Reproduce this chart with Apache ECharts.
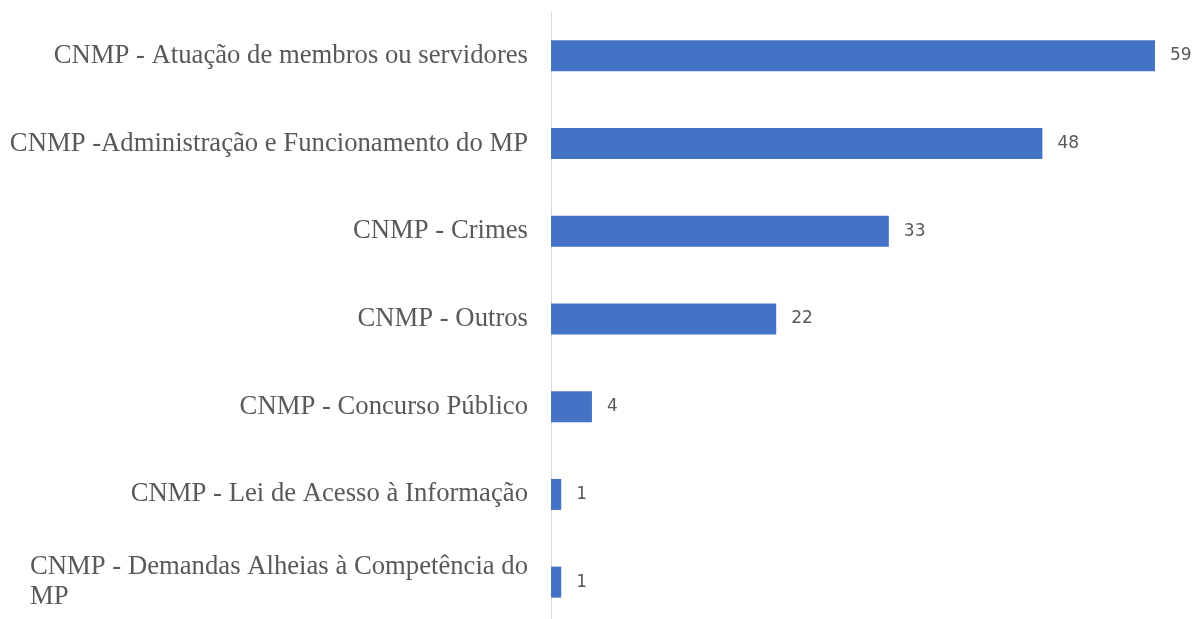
<!DOCTYPE html>
<html>
<head>
<meta charset="utf-8">
<script src="https://cdn.jsdelivr.net/npm/echarts@6/dist/echarts.min.js"></script>
<style>
  html, body { margin: 0; padding: 0; background: #fff; overflow: hidden; }
  #chart { width: 1195px; height: 630px; }
</style>
</head>
<body>
<div id="chart"></div>
<script>
// categories, top to bottom as drawn
var categories = [
  'CNMP - Atuação de membros ou servidores',
  'CNMP -Administração e Funcionamento do MP',
  'CNMP - Crimes',
  'CNMP - Outros',
  'CNMP - Concurso Público',
  'CNMP - Lei de Acesso à Informação',
  'CNMP - Demandas Alheias à Competência do MP'
]
var values = [59, 48, 33, 22, 4, 1, 1]

var chart = echarts.init(document.getElementById('chart'), null, { renderer: 'canvas' })

chart.setOption({
  animation: false,
  grid: {
    left: 551,
    right: 40,
    top: 12,
    bottom: 4,
    containLabel: false
  },
  xAxis: {
    type: 'value',
    min: 0,
    max: 59,
    show: false
  },
  yAxis: {
    type: 'category',
    inverse: true,
    data: categories,
    axisLine: { show: true, lineStyle: { color: '#d9d9d9', width: 1 } },
    axisTick: { show: false },
    axisLabel: {
      margin: 23,
      color: '#595959',
      fontFamily: '"Liberation Serif", serif',
      fontSize: 26.7,
      formatter: function(val) {
        // last label wraps, left aligned like the original
        if (val.indexOf('Demandas') >= 0) {
          return '{l|CNMP - Demandas Alheias à Competência do}\n{l|MP}'
        }
        return val
      },
      rich: {
        l: {
          width: 498,
          align: 'left',
          lineHeight: 30,
          fontSize: 26.7,
          color: '#595959',
          fontFamily: '"Liberation Serif", serif'
        }
      }
    }
  },
  series: [{
    type: 'bar',
    data: values,
    barWidth: 31,
    itemStyle: { color: '#4472c4' },
    label: {
      show: true,
      position: 'right',
      distance: 15,
      color: '#595959',
      fontSize: 17,
      fontFamily: '"DejaVu Sans", sans-serif'
    }
  }]
})
</script>
</body>
</html>
